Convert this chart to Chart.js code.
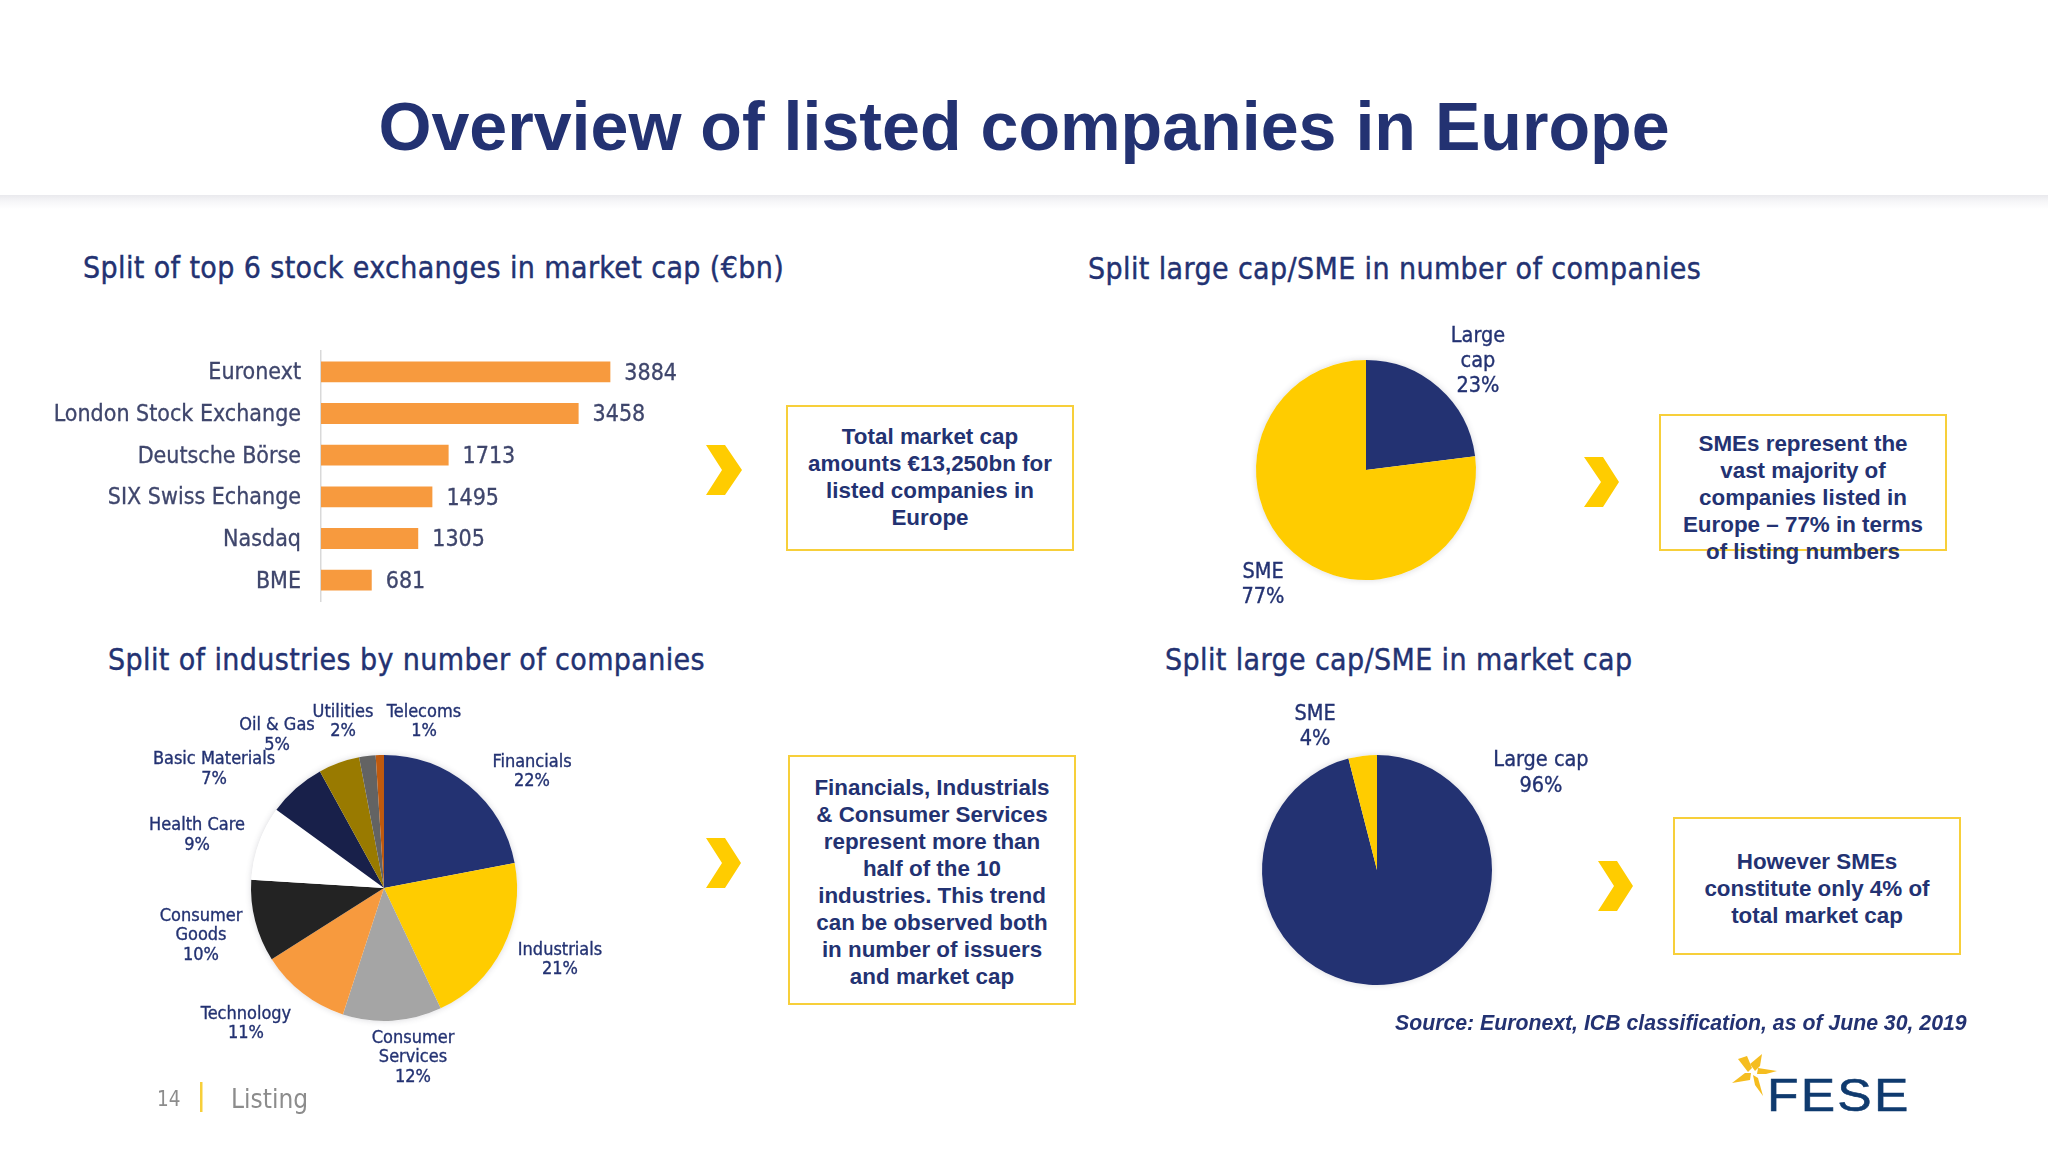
<!DOCTYPE html>
<html>
<head>
<meta charset="utf-8">
<title>Overview of listed companies in Europe</title>
<script src="https://cdn.jsdelivr.net/npm/chart.js@4/dist/chart.umd.js"></script>
<style>
	html, body { margin: 0; padding: 0; background: #fff; }
	#slide { position: relative; width: 2048px; height: 1152px; overflow: hidden; background: #fff; color: #233272; }
	#slide > * { position: absolute; }
	canvas { display: block; }

	#band { left: 0; top: 195px; width: 2048px; height: 14px; background: linear-gradient(#e9e9ed, #f6f6f8 45%, #fff); }
	#title { left: 0; width: 2048px; top: 84px; text-align: center; font: bold 68.15px/84px "Liberation Sans", sans-serif; }

	.head { white-space: nowrap; letter-spacing: 0.38px; font: 30px/36px "DejaVu Sans Condensed", "DejaVu Sans", sans-serif; -webkit-text-stroke: 0.4px #233272; }
	.box { box-sizing: border-box; border: 2.5px solid #f7cf3a; }
	.note { text-align: center; white-space: nowrap; font: bold 22.4px/27px "Liberation Sans", sans-serif; }
	.chev { fill: #ffcc00; }
	#source { white-space: nowrap; font: italic bold 21.25px/28px "Liberation Sans", sans-serif; }
	.foot { color: #8c8c8c; white-space: nowrap; font-family: "DejaVu Sans Condensed", "DejaVu Sans", sans-serif; }
</style>
</head>
<body>
<div id="slide">
	<div id="band"></div>
	<div id="title">Overview of listed companies in Europe</div>

	<div class="head" style="left:83px;top:250px">Split of top 6 stock exchanges in market cap (€bn)</div>
	<div class="head" style="left:1088px;top:251px">Split large cap/SME in number of companies</div>
	<div class="head" style="left:108px;top:642px">Split of industries by number of companies</div>
	<div class="head" style="left:1165px;top:642px">Split large cap/SME in market cap</div>

	<canvas id="canExchanges" width="760" height="270" style="left:0;top:341px"></canvas>
	<canvas id="canCount" width="520" height="400" style="left:1106px;top:270px"></canvas>
	<canvas id="canIndustries" width="560" height="440" style="left:104px;top:668px"></canvas>
	<canvas id="canCap" width="520" height="360" style="left:1117px;top:690px"></canvas>

	<!-- callouts -->
	<div class="box" style="left:786px;top:405px;width:288px;height:146px"></div>
	<div class="note" style="left:786px;top:423px;width:288px">Total market cap<br>amounts €13,250bn for<br>listed companies in<br>Europe</div>

	<div class="box" style="left:1659px;top:414px;width:288px;height:137px"></div>
	<div class="note" style="left:1659px;top:430px;width:288px">SMEs represent the<br>vast majority of<br>companies listed in<br>Europe – 77% in terms<br>of listing numbers</div>

	<div class="box" style="left:788px;top:755px;width:288px;height:250px"></div>
	<div class="note" style="left:788px;top:773.5px;width:288px">Financials, Industrials<br>&amp; Consumer Services<br>represent more than<br>half of the 10<br>industries. This trend<br>can be observed both<br>in number of issuers<br>and market cap</div>

	<div class="box" style="left:1673px;top:817px;width:288px;height:138px"></div>
	<div class="note" style="left:1673px;top:848px;width:288px">However SMEs<br>constitute only 4% of<br>total market cap</div>

	<!-- chevrons, logo -->
	<svg style="left:0;top:0" width="2048" height="1152">
		<polygon class="chev" points="706,445 725,445 742,470 725,495 706,495 722,470"/>
		<polygon class="chev" points="1584,457 1603,457 1619,482 1603,507 1584,507 1601,482"/>
		<polygon class="chev" points="706,838 725,838 741,863 725,888 706,888 722,863"/>
		<polygon class="chev" points="1598,861 1617,861 1633,886 1617,911 1598,911 1614,886"/>
		<rect x="200" y="1082" width="2.5" height="30" fill="#f7cf3a"/>
		<g fill="#f5bd1f">
			<polygon points="1738,1059 1747,1056 1752,1068 1748,1072"/>
			<polygon points="1762,1054 1760,1066 1755,1071 1750,1064"/>
			<polygon points="1777,1071 1766,1074 1757,1074 1758,1068"/>
			<polygon points="1763,1096 1755,1085 1753,1075 1758,1078"/>
			<polygon points="1732,1083 1745,1073 1751,1073 1750,1080"/>
		</g>
	</svg>
	<div id="fese" style="left:1767px;top:1068px;font:46px/54px 'Liberation Sans',sans-serif;color:#0f3a6e;letter-spacing:2px;-webkit-text-stroke:0.6px #0f3a6e;transform:scaleX(1.12);transform-origin:left center">FESE</div>

	<div id="source" style="left:1395px;top:1009px">Source: Euronext, ICB classification, as of June 30, 2019</div>
	<div class="foot" style="left:157px;top:1086px;font-size:20.5px;line-height:26px">14</div>
	<div class="foot" style="left:231px;top:1082px;font-size:26px;line-height:34px">Listing</div>
</div>

<script>
'use strict'

// bar chart, top 6 exchanges
const exchangeNames = ['Euronext', 'London Stock Exchange', 'Deutsche Börse', 'SIX Swiss Echange', 'Nasdaq', 'BME'];
const exchangeCaps = [3884, 3458, 1713, 1495, 1305, 681];

// pie, number of companies
const countNames = [['Large', 'cap'], ['SME']];
const countShares = [23, 77];

// pie, industries
const industryNames = [['Financials'], ['Industrials'], ['Consumer', 'Services'], ['Technology'], ['Consumer', 'Goods'],
	['Health Care'], ['Basic Materials'], ['Oil & Gas'], ['Utilities'], ['Telecoms']];
const industryShares = [22, 21, 12, 11, 10, 9, 7, 5, 2, 1];

// pie, market cap
const capNames = [['Large cap'], ['SME']];
const capShares = [96, 4];

const NAVY = '#233272';
const YELLOW = '#ffcc00';
const LABEL_FONT = '"DejaVu Sans Condensed", "DejaVu Sans", sans-serif';

// value next to each bar
const barValues = {
	id: 'barValues',
	afterDatasetsDraw(chart) {
		const ctx = chart.ctx;
		ctx.save();
		ctx.font = '23px ' + LABEL_FONT;
		ctx.fillStyle = '#3f466c';
		ctx.strokeStyle = '#3f466c';
		ctx.lineWidth = 0.3;
		ctx.textAlign = 'left';
		ctx.textBaseline = 'middle';
		chart.getDatasetMeta(0).data.forEach((bar, i) => {
			ctx.fillText(String(exchangeCaps[i]), bar.x + 14, bar.y + 2);
			ctx.strokeText(String(exchangeCaps[i]), bar.x + 14, bar.y + 2);
		});
		ctx.restore();
	}
};

// soft shadow under the pie, then "name / xx%" text at the given page positions
const pieDecor = {
	id: 'pieDecor',
	beforeDatasetsDraw(chart) {
		const arc = chart.getDatasetMeta(0).data[0];
		const ctx = chart.ctx;
		ctx.save();
		ctx.shadowColor = 'rgba(60,60,80,0.2)';
		ctx.shadowBlur = 6;
		ctx.fillStyle = '#fff';
		ctx.beginPath();
		ctx.arc(arc.x, arc.y, arc.outerRadius, 0, Math.PI * 2);
		ctx.fill();
		ctx.restore();
	},
	afterDatasetsDraw(chart, args, opts) {
		const ctx = chart.ctx;
		const box = chart.canvas;
		const left = box.offsetLeft;
		const top = box.offsetTop;
		ctx.save();
		ctx.font = opts.size + 'px ' + LABEL_FONT;
		ctx.fillStyle = NAVY;
		ctx.strokeStyle = NAVY;
		ctx.lineWidth = 0.35;
		ctx.textAlign = 'center';
		ctx.textBaseline = 'middle';
		chart.data.labels.forEach((name, i) => {
			const lines = name.concat(chart.data.datasets[0].data[i] + '%');
			lines.forEach((line, n) => {
				const x = opts.spots[i][0] - left;
				const y = opts.spots[i][1] - top + n * opts.pitch;
				ctx.fillText(line, x, y);
				ctx.strokeText(line, x, y);
			});
		});
		ctx.restore();
	}
};

function pieChart(id, names, shares, colors, radius, size, spots, pitch) {
	const canvas = document.getElementById(id);
	const padX = (canvas.width - radius * 2) / 2;
	const padY = (canvas.height - radius * 2) / 2;
	return new Chart(canvas, {
		type: 'pie',
		data: {
			labels: names,
			datasets: [{ data: shares, backgroundColor: colors, borderWidth: 0, hoverOffset: 0 }]
		},
		options: {
			responsive: false,
			animation: false,
			layout: { padding: { left: padX, right: padX, top: padY, bottom: padY } },
			plugins: {
				legend: { display: false },
				tooltip: { enabled: false },
				pieDecor: { spots: spots, size: size, pitch: pitch }
			}
		},
		plugins: [pieDecor]
	});
}

new Chart(document.getElementById('canExchanges'), {
	type: 'bar',
	data: {
		labels: exchangeNames,
		datasets: [{ data: exchangeCaps, backgroundColor: '#f79a3e', barPercentage: 0.5, categoryPercentage: 1 }]
	},
	options: {
		indexAxis: 'y',
		responsive: false,
		animation: false,
		layout: { padding: { top: 10, bottom: 10, right: 66.5 } },
		scales: {
			x: { display: false, min: 0, max: 5000 },
			y: {
				afterFit(axis) {
					axis.width = 321;
					axis.paddingTop = 0;
					axis.paddingBottom = 0;
				},
				grid: { display: false, drawTicks: false },
				border: { color: '#d9d9d9', width: 1.5 },
				ticks: { color: '#3f466c', padding: 20, labelOffset: 1.5, textStrokeColor: '#3f466c', textStrokeWidth: 0.3, font: { family: LABEL_FONT, size: 23 } }
			}
		},
		plugins: { legend: { display: false }, tooltip: { enabled: false } }
	},
	plugins: [barValues]
});

pieChart('canCount', countNames, countShares, [NAVY, YELLOW], 110, 21.5,
	[[1478, 336], [1263, 572]], 25);

pieChart('canIndustries', industryNames, industryShares,
	[NAVY, YELLOW, '#a5a5a5', '#f79a3e', '#232323', '#ffffff', '#18204a', '#997a00', '#636363', '#bf5a0e'],
	133, 18,
	[[532, 762], [560, 950], [413, 1038], [246, 1014], [201, 916], [197, 825.5], [214, 759.5], [277, 725.5], [343, 712], [424, 712]],
	19.6);

pieChart('canCap', capNames, capShares, [NAVY, YELLOW], 115, 21.5,
	[[1541, 760.5], [1315, 714]], 25.5);
</script>
</body>
</html>
